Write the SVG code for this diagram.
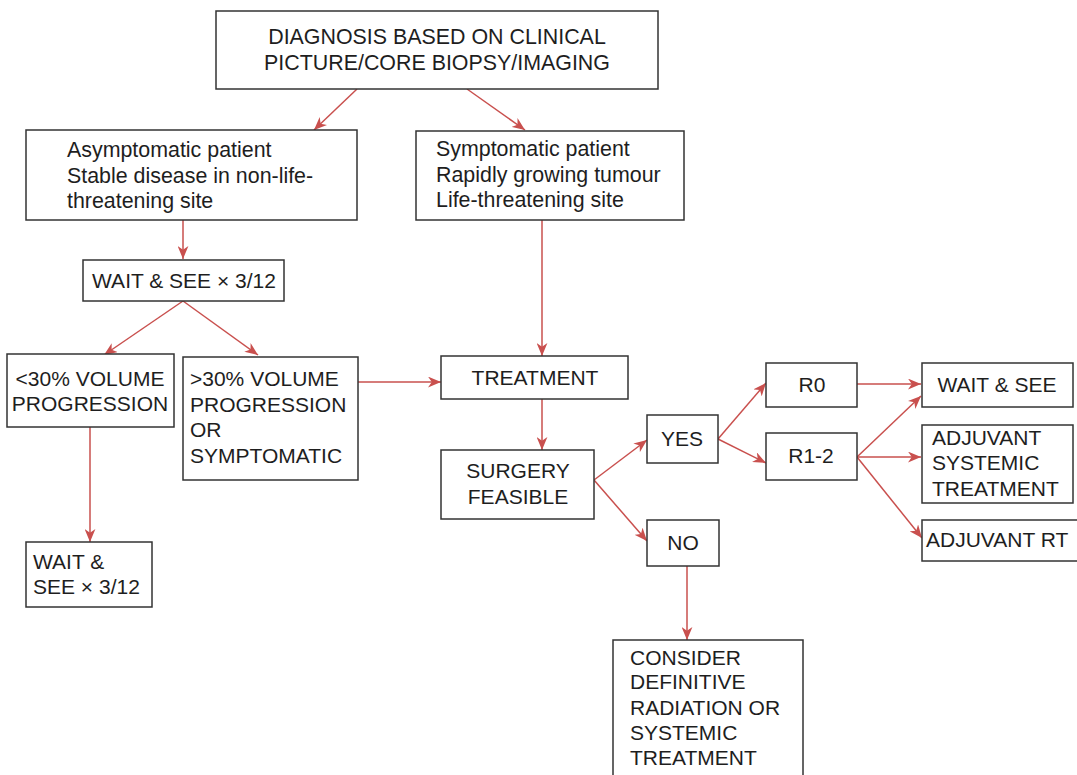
<svg xmlns="http://www.w3.org/2000/svg" width="1077" height="775" viewBox="0 0 1077 775">
<defs>
<style>
.box{fill:#fff;stroke:#333;stroke-width:1.5}
.t{font-family:"Liberation Sans",Arial,sans-serif;font-size:21px;fill:#1e1e1e}
.s{font-size:21.4px}
.c{text-anchor:middle}
.ln{stroke:#c9504e;stroke-width:1.5;fill:none;marker-end:url(#ah)}
</style>
<marker id="ah" viewBox="0 0 12 10" refX="12" refY="5" markerWidth="13" markerHeight="11" markerUnits="userSpaceOnUse" orient="auto">
<path d="M0,0 L12,5 L0,10 L3.5,5 z" fill="#c9504e"/>
</marker>
</defs>
<rect width="1077" height="775" fill="#fff"/>
<g id="connectors">
<line class="ln" x1="357" y1="89" x2="314" y2="130"/>
<line class="ln" x1="467" y1="89" x2="525" y2="130"/>
<line class="ln" x1="183" y1="220" x2="183" y2="259"/>
<line class="ln" x1="183" y1="301" x2="104" y2="355"/>
<line class="ln" x1="183" y1="301" x2="258" y2="355"/>
<line class="ln" x1="542" y1="220" x2="542" y2="356"/>
<line class="ln" x1="358" y1="382" x2="441" y2="382"/>
<line class="ln" x1="90" y1="427" x2="90" y2="542"/>
<line class="ln" x1="542" y1="399" x2="542" y2="450"/>
<line class="ln" x1="594" y1="480" x2="647" y2="440"/>
<line class="ln" x1="594" y1="480" x2="647" y2="541"/>
<line class="ln" x1="718" y1="439" x2="766" y2="383"/>
<line class="ln" x1="718" y1="439" x2="766" y2="463"/>
<line class="ln" x1="687" y1="566" x2="687" y2="640"/>
<line class="ln" x1="857" y1="384" x2="921" y2="384"/>
<line class="ln" x1="857" y1="457" x2="921" y2="396"/>
<line class="ln" x1="857" y1="457" x2="921" y2="457"/>
<line class="ln" x1="857" y1="457" x2="922" y2="538"/>
</g>
<g id="diagnosis">
<rect class="box" x="216" y="11" width="442" height="78"/>
<text class="t c s" x="437" y="44">DIAGNOSIS BASED ON CLINICAL</text>
<text class="t c s" x="437" y="70">PICTURE/CORE BIOPSY/IMAGING</text>
</g>
<g id="asymptomatic">
<rect class="box" x="26" y="130" width="331" height="90"/>
<text class="t s" x="67" y="157">Asymptomatic patient</text>
<text class="t s" x="67" y="183">Stable disease in non-life-</text>
<text class="t s" x="67" y="208">threatening site</text>
</g>
<g id="symptomatic">
<rect class="box" x="416" y="131" width="268" height="89"/>
<text class="t s" x="436" y="156">Symptomatic patient</text>
<text class="t s" x="436" y="182">Rapidly growing tumour</text>
<text class="t s" x="436" y="207">Life-threatening site</text>
</g>
<g id="wait1">
<rect class="box" x="83" y="260" width="201" height="41"/>
<text class="t c" x="184" y="288">WAIT &amp; SEE × 3/12</text>
</g>
<g id="lt30">
<rect class="box" x="7" y="354" width="167" height="73"/>
<text class="t c" x="90" y="386">&lt;30% VOLUME</text>
<text class="t c" x="90" y="411">PROGRESSION</text>
</g>
<g id="gt30">
<rect class="box" x="183" y="357" width="175" height="123"/>
<text class="t" x="190" y="386">&gt;30% VOLUME</text>
<text class="t" x="190" y="412">PROGRESSION</text>
<text class="t" x="190" y="437">OR</text>
<text class="t" x="190" y="463">SYMPTOMATIC</text>
</g>
<g id="wait2">
<rect class="box" x="26" y="542" width="126" height="65"/>
<text class="t" x="33" y="569">WAIT &amp;</text>
<text class="t" x="33" y="594">SEE × 3/12</text>
</g>
<g id="treatment">
<rect class="box" x="441" y="356" width="187" height="43"/>
<text class="t c" x="535" y="385">TREATMENT</text>
</g>
<g id="surgery">
<rect class="box" x="441" y="450" width="153" height="69"/>
<text class="t c" x="518" y="478">SURGERY</text>
<text class="t c" x="518" y="504">FEASIBLE</text>
</g>
<g id="yes">
<rect class="box" x="647" y="415" width="71" height="48"/>
<text class="t c" x="682" y="446">YES</text>
</g>
<g id="no">
<rect class="box" x="647" y="520" width="72" height="46"/>
<text class="t c" x="683" y="550">NO</text>
</g>
<g id="r0">
<rect class="box" x="766" y="363" width="91" height="44"/>
<text class="t c" x="812" y="392">R0</text>
</g>
<g id="r12">
<rect class="box" x="766" y="433" width="91" height="47"/>
<text class="t c" x="811" y="463">R1-2</text>
</g>
<g id="waitR">
<rect class="box" x="922" y="363" width="151" height="44"/>
<text class="t c" x="997" y="392">WAIT &amp; SEE</text>
</g>
<g id="adjsys">
<rect class="box" x="922" y="425" width="151" height="78"/>
<text class="t" x="932" y="445">ADJUVANT</text>
<text class="t" x="932" y="470">SYSTEMIC</text>
<text class="t" x="932" y="496">TREATMENT</text>
</g>
<g id="adjrt">
<rect class="box" x="922" y="520" width="156" height="41"/>
<text class="t" x="926" y="547">ADJUVANT RT</text>
</g>
<g id="consider">
<rect class="box" x="613" y="640" width="190" height="140"/>
<text class="t" x="630" y="665">CONSIDER</text>
<text class="t" x="630" y="689">DEFINITIVE</text>
<text class="t" x="630" y="715">RADIATION OR</text>
<text class="t" x="630" y="740">SYSTEMIC</text>
<text class="t" x="630" y="765">TREATMENT</text>
</g>
</svg>
